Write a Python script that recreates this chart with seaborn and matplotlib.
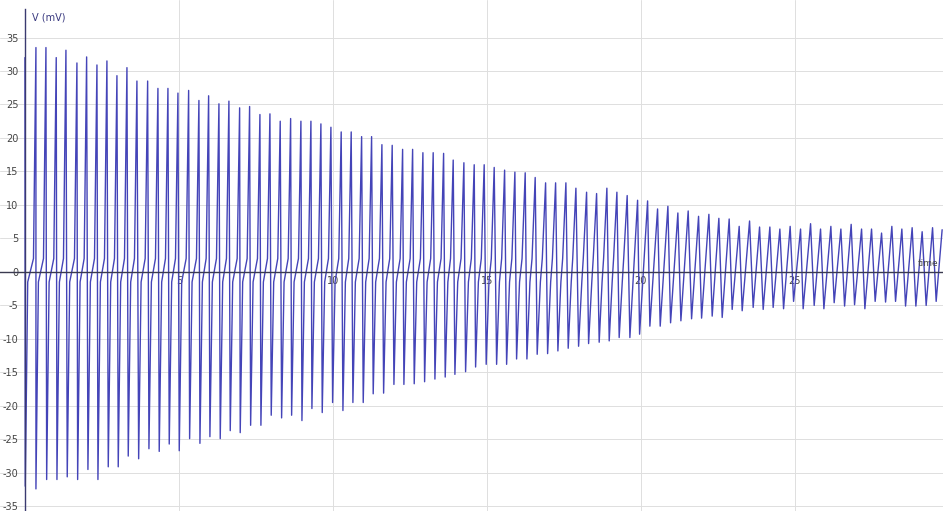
import numpy as np
import pandas as pd
import seaborn as sns
import matplotlib
matplotlib.use("Agg")
import matplotlib.pyplot as plt
from matplotlib.ticker import MultipleLocator

# peaks of the trace (time, mV)
peak_t = [0.00, 0.357, 0.682, 1.016, 1.331, 1.688, 2.003, 2.338, 2.662, 2.987,
          3.312, 3.636, 3.984, 4.318, 4.643, 4.968, 5.315, 5.649, 5.964, 6.299,
          6.623, 6.971, 7.295, 7.630, 7.955, 8.289, 8.627, 8.961, 9.286, 9.610,
          9.935, 10.269, 10.594, 10.932, 11.256, 11.591, 11.925, 12.263, 12.588, 12.922,
          13.256, 13.594, 13.906, 14.253, 14.588, 14.912, 15.237, 15.575, 15.909, 16.244,
          16.568, 16.906, 17.231, 17.565, 17.890, 18.237, 18.562, 18.896, 19.221, 19.555,
          19.893, 20.218, 20.542, 20.877, 21.201, 21.536, 21.873, 22.208, 22.532, 22.867,
          23.192, 23.529, 23.854, 24.188, 24.513, 24.847, 25.185, 25.510, 25.834, 26.169,
          26.494, 26.828, 27.166, 27.490, 27.815, 28.149, 28.474, 28.808, 29.133, 29.471,
          29.782]
peak_v = [32.0, 33.5, 33.5, 32.0, 33.1, 31.2, 32.1, 30.9, 31.5, 29.3,
          30.5, 28.5, 28.5, 27.4, 27.4, 26.7, 27.1, 25.6, 26.3, 25.1,
          25.5, 24.5, 24.7, 23.5, 23.6, 22.5, 22.9, 22.5, 22.5, 22.1,
          21.6, 20.9, 20.9, 20.2, 20.2, 19.0, 18.9, 18.3, 18.3, 17.8,
          17.8, 17.7, 16.7, 16.3, 16.0, 16.0, 15.6, 15.2, 14.9, 14.8,
          14.1, 13.3, 13.3, 13.3, 12.5, 11.9, 11.7, 12.5, 11.9, 11.4,
          10.7, 10.6, 9.4, 9.8, 8.8, 9.1, 8.3, 8.6, 8.0, 7.9,
          6.8, 7.6, 6.7, 6.7, 6.4, 6.8, 6.4, 7.2, 6.4, 6.8,
          6.4, 7.1, 6.4, 6.4, 5.8, 6.8, 6.4, 6.6, 6.0, 6.6,
          6.3]

# troughs that follow each peak
trough_t = [0.010, 0.357, 0.705, 1.039, 1.373, 1.711, 2.045, 2.370, 2.705, 3.029,
            3.354, 3.692, 4.026, 4.360, 4.685, 5.010, 5.347, 5.682, 6.006, 6.341,
            6.666, 6.990, 7.328, 7.662, 7.997, 8.334, 8.659, 8.994, 9.318, 9.653,
            9.990, 10.325, 10.649, 10.984, 11.308, 11.646, 11.981, 12.305, 12.640, 12.977,
            13.312, 13.646, 13.961, 14.308, 14.633, 14.977, 15.315, 15.640, 15.964, 16.299,
            16.633, 16.971, 17.305, 17.640, 17.977, 18.302, 18.646, 18.971, 19.295, 19.643,
            19.958, 20.292, 20.627, 20.964, 21.299, 21.646, 21.971, 22.315, 22.640, 22.964,
            23.289, 23.646, 23.971, 24.295, 24.633, 24.958, 25.269, 25.627, 25.942, 26.276,
            26.614, 26.938, 27.273, 27.607, 27.945, 28.269, 28.594, 28.929, 29.263, 29.588]
trough_v = [-32.0, -32.4, -31.0, -31.0, -30.6, -31.0, -29.5, -31.0, -29.1, -29.1,
            -27.5, -27.9, -26.4, -26.8, -25.7, -26.7, -24.9, -25.6, -24.6, -24.9,
            -23.7, -24.0, -22.9, -22.9, -21.4, -21.8, -21.4, -22.2, -20.4, -21.0,
            -19.5, -20.7, -19.5, -19.5, -18.2, -18.1, -16.8, -16.8, -16.7, -16.4,
            -16.0, -15.7, -15.3, -14.9, -14.2, -13.8, -13.8, -13.8, -13.0, -13.0,
            -12.3, -12.2, -11.8, -11.4, -11.1, -10.7, -10.5, -10.3, -9.8, -9.8,
            -9.3, -8.1, -8.1, -7.6, -7.3, -7.0, -6.9, -6.6, -6.8, -5.6,
            -5.8, -5.3, -5.6, -5.3, -5.5, -4.4, -5.5, -5.0, -5.5, -4.6,
            -5.1, -4.9, -5.5, -4.4, -4.5, -4.4, -5.1, -5.1, -5.0, -4.4]

# slow creep near zero between the fast strokes
knee_lo, knee_hi = -1.5, 2.0

ts, vs = [], []
for i in range(len(peak_t)):
    ts.append(peak_t[i]); vs.append(peak_v[i])
    if i >= len(trough_t):
        break
    tt, tv = trough_t[i], trough_v[i]
    ts.append(tt); vs.append(tv)
    if i + 1 < len(peak_t):
        nt, nv = peak_t[i + 1], peak_v[i + 1]
        gap = nt - tt
        # relaxation shape while the swing is big, straight ramp when small
        w = np.clip((nv - 11) / 7, 0, 1)
        lin_lo = tt + gap * (knee_lo - tv) / (nv - tv)
        lin_hi = tt + gap * (knee_hi - tv) / (nv - tv)
        ts.append(w * (tt + 0.08) + (1 - w) * lin_lo); vs.append(knee_lo)
        ts.append(w * (nt - 0.08) + (1 - w) * lin_hi); vs.append(knee_hi)

df = pd.DataFrame({"time": ts, "V": vs})

sns.set_style("white")
plt.rcParams["axes.unicode_minus"] = False
plt.rcParams["font.family"] = ["DejaVu Sans"]

fig = plt.figure(figsize=(9.43, 5.11), dpi=100)
ax = fig.add_axes([0, 0, 1, 1])

sns.lineplot(data=df, x="time", y="V", ax=ax, sort=False, estimator=None,
             color="#4444b8", linewidth=1.0)

ax.set_xlim(-0.81, 29.81)
ax.set_ylim(-35.7, 40.6)

for y in range(-35, 40, 5):
    if y != 0:
        ax.axhline(y, color="#dedede", lw=0.7, zorder=0)
for x in range(5, 30, 5):
    ax.axvline(x, color="#dedede", lw=0.7, zorder=0)

ax.spines["top"].set_visible(False)
ax.spines["right"].set_visible(False)
ax.spines["left"].set_position(("data", 0))
ax.spines["bottom"].set_position(("data", 0))
ax.spines["left"].set_bounds(-35.7, 39.2)
ax.spines["left"].set_color("#3a3a70")
ax.spines["bottom"].set_color("#3a3a50")
ax.spines["left"].set_linewidth(1.0)
ax.spines["bottom"].set_linewidth(1.0)

ax.set_yticks(range(-35, 40, 5))
ax.set_xticks([5, 10, 15, 20, 25])
ax.yaxis.set_minor_locator(MultipleLocator(1))
ax.xaxis.set_minor_locator(MultipleLocator(1))
ax.tick_params(axis="y", which="major", direction="inout", length=5, width=0.8,
               color="#3a3a70", labelsize=7, labelcolor="#444444", pad=2)
ax.tick_params(axis="y", which="minor", direction="inout", length=3, width=0.6,
               color="#3a3a70")
ax.tick_params(axis="x", which="major", direction="inout", length=4, width=0.8,
               color="#3a3a50", labelsize=7, labelcolor="#444444", pad=1)
ax.tick_params(axis="x", which="minor", direction="inout", length=2, width=0.5,
               color="#3a3a50")
ax.set_xlabel("")
ax.set_ylabel("")

ax.text(32 / 943, 1 - 18 / 511, "V (mV)", transform=ax.transAxes,
        ha="left", va="center", fontsize=7, color="#3a3a80")
ax.text(938 / 943, 1 - 264 / 511, "time", transform=ax.transAxes,
        ha="right", va="center", fontsize=6.5, color="#444444")

fig.savefig("out.png", dpi=100)
